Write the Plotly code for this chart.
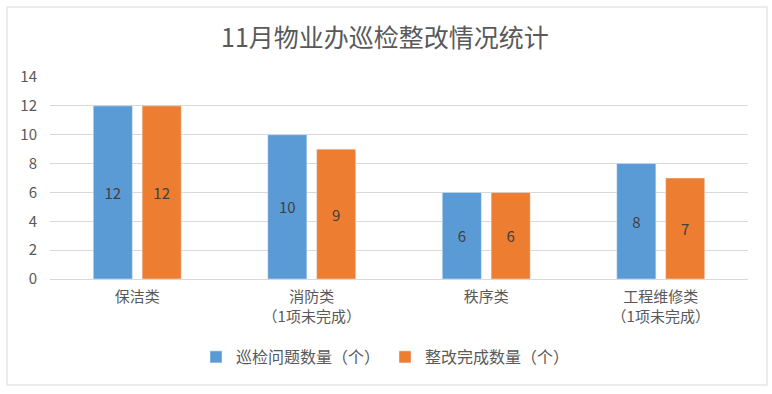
import plotly.graph_objects as go

categories = ["保洁类", "消防类<br>（1项未完成）", "秩序类", "工程维修类<br>（1项未完成）"]
series_names = ["巡检问题数量（个）", "整改完成数量（个）"]
issues = [12, 10, 6, 8]
fixed = [12, 9, 6, 7]
y_ticks = [0, 2, 4, 6, 8, 10, 12, 14]

FONT = "Noto Sans CJK SC, Microsoft YaHei, sans-serif"
colors = ["#5b9bd5", "#ed7d31"]

fig = go.Figure()
for name, vals, c in zip(series_names, [issues, fixed], colors):
    fig.add_trace(go.Bar(
        x=categories, y=vals, name=name, marker_color=c,
        text=vals, textposition="inside", insidetextanchor="middle",
        textfont=dict(color="#404040", size=15, family=FONT),
    ))

# outer chart border
fig.add_shape(type="rect", xref="paper", yref="paper",
              x0=-0.0616, x1=1.0272, y0=-0.5248, y1=1.3465,
              line=dict(color="#d9d9d9", width=1), fillcolor="rgba(0,0,0,0)", layer="below")

fig.update_layout(
    width=772, height=394,
    margin=dict(l=50, r=24, t=77, b=115, autoexpand=False),
    paper_bgcolor="white", plot_bgcolor="white",
    title=dict(text="11月物业办巡检整改情况统计", x=385/772, xref="container", xanchor="center",
               y=1 - 38/394, yref="container", yanchor="middle",
               font=dict(size=25, color="#595959", family=FONT)),
    barmode="group", bargap=0.44, bargroupgap=0.2,
    font=dict(family=FONT, color="#595959", size=16),
    showlegend=True,
    legend=dict(orientation="h", x=(196-50)/698, xanchor="left",
                y=-(357-279)/202, yanchor="middle",
                font=dict(size=16, color="#595959", family=FONT),
                traceorder="normal"),
)
fig.update_xaxes(showgrid=False, showline=True, linecolor="#d9d9d9", linewidth=1,
                 tickfont=dict(size=15, color="#595959", family=FONT), ticks="",
                 ticklabelstandoff=4, automargin=False)
fig.update_yaxes(range=[0, 14], tickvals=y_ticks, showgrid=True, gridcolor="#d9d9d9",
                 gridwidth=1, zeroline=False, showline=False, ticks="",
                 tickfont=dict(size=15, color="#595959", family=FONT),
                 ticklabelstandoff=12, automargin=False)

fig.write_html("out.html", config={"displayModeBar": False},
               post_script="document.body.style.margin='0';")
